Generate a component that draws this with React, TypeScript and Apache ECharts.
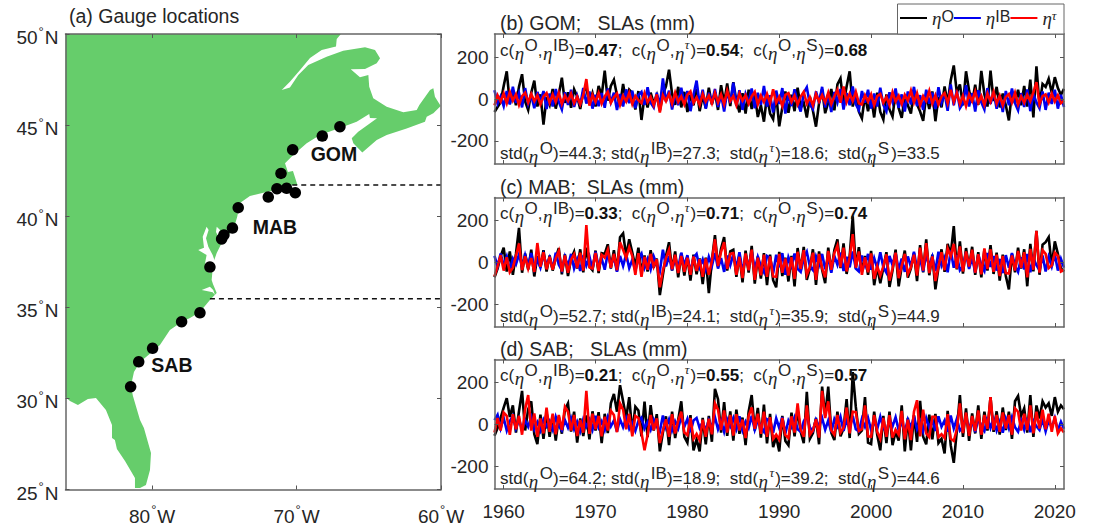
import React, { useEffect, useRef } from "react";
import * as echarts from "echarts";

const FONT = "Liberation Sans";
const SERIF = "Liberation Serif";
const INK = "#262626";
const LAND = "#66CD6B";

const startYear = 1959;
const samplesPerYear = 3;
const decadeTicks = [1960, 1970, 1980, 1990, 2000, 2010, 2020];
const slaTicks = [-200, 0, 200];
const lonTicks = [-80, -70, -60];
const latTicks = [25, 30, 35, 40, 45, 50];

const coast = [
  [-86, 50], [-66.93, 50], [-67.22, 49.73], [-67.27, 49.31], [-68.26, 49.12], [-69.07, 48.68], [-69.76, 48.02], [-70.46, 47.38], [-71.03, 46.93],
  [-70.46, 47.07], [-69.88, 47.75], [-69.19, 48.3], [-67.92, 48.75], [-66.77, 49.08], [-65.26, 49.27], [-64.57, 49.12], [-64.22, 48.67], [-64.45, 48.39],
  [-65.26, 48.08], [-66.25, 48.06], [-65.61, 47.62], [-65.03, 47.75], [-64.97, 47.11], [-64.69, 46.47], [-63.76, 46.01], [-62.61, 45.7], [-61.68, 45.83],
  [-61.5, 46.1], [-60.76, 46.93], [-60.53, 47.02], [-60.42, 46.56], [-60.02, 46.05], [-60.53, 45.65], [-60.99, 45.46], [-61.11, 45.19], [-62.38, 44.82],
  [-63.76, 44.46], [-64.45, 44.18], [-65.45, 43.49], [-66.07, 44.0], [-66.18, 44.28], [-65.73, 44.64], [-64.43, 45.37], [-64.92, 45.39], [-64.97, 45.61],
  [-65.84, 45.19], [-66.77, 44.91], [-68.38, 44.46], [-69.3, 44.0], [-70.23, 43.36], [-70.8, 42.9], [-70.6, 42.43], [-70.25, 42.48], [-69.94, 41.71],
  [-70.39, 41.71], [-70.87, 41.55], [-71.5, 41.44], [-73.23, 41.11], [-73.92, 40.72], [-74.11, 39.97], [-74.38, 39.24], [-75.08, 38.69], [-75.53, 37.98],
  [-75.77, 37.43], [-75.88, 36.5], [-75.79, 36.28], [-75.53, 35.78], [-76.0, 35.4], [-76.69, 34.74], [-77.38, 34.41], [-77.96, 34.19], [-78.77, 33.75],
  [-79.46, 32.93], [-80.01, 32.55], [-80.84, 32.0], [-81.26, 31.45], [-81.47, 30.68], [-81.33, 30.13], [-80.84, 28.81], [-80.57, 28.38], [-80.08, 27.0],
  [-80.15, 26.07], [-80.43, 25.25], [-80.84, 25.08], [-81.19, 25.08], [-81.19, 25.63], [-81.88, 26.56], [-82.44, 27.22], [-82.58, 27.72], [-82.78, 27.83],
  [-82.78, 28.54], [-83.2, 29.36], [-83.89, 30.02], [-84.45, 29.97], [-85.14, 29.64], [-85.69, 29.86], [-86, 30.08],
];
const chesapeake = [
  [-76.23, 39.42], [-76.09, 39.24], [-76.27, 38.79], [-76.11, 38.33], [-75.81, 37.87], [-75.65, 37.5], [-75.72, 37.14], [-76.0, 36.87], [-76.34, 37.05],
  [-76.32, 37.5], [-76.23, 37.87], [-76.81, 38.14], [-76.41, 38.27], [-76.5, 38.87],
];
const delaware = [[-75.53, 39.42], [-75.3, 39.24], [-75.44, 38.91], [-75.58, 39.13]];
const pamlico = [[-76.57, 35.95], [-76.0, 36.13], [-75.77, 35.95], [-75.65, 35.67], [-75.81, 35.82], [-76.23, 35.89]];

const gauges = [
  [-67.0, 44.91], [-68.22, 44.4], [-70.27, 43.65], [-71.08, 42.35], [-71.36, 41.51], [-70.69, 41.53], [-70.09, 41.29], [-71.96, 41.05], [-74.04, 40.47],
  [-74.44, 39.35], [-75.03, 38.97], [-75.19, 38.75], [-76.0, 37.21], [-76.69, 34.7], [-77.96, 34.21], [-79.97, 32.75], [-80.93, 32.01], [-81.49, 30.64],
];
const regionLabels = [
  { name: "GOM", value: [-67.41, 43.41] },
  { name: "MAB", value: [-71.5, 39.41] },
  { name: "SAB", value: [-78.63, 31.83] },
];
const boundaryNorth = [[-70.3, 41.71], [-60, 41.71]];
const boundarySouth = [[-76.0, 35.47], [-60, 35.47]];

const gomO = [
  -62,-38,-15,62,132,-22,42,-30,58,118,-12,-52,30,88,-36,22,-122,8,
  -28,48,-46,22,102,-18,32,-42,46,12,-48,36,54,-22,28,-36,62,16,
  135,-8,62,92,18,-32,72,-14,44,28,-50,38,-100,14,-40,30,-22,18,
  -55,22,60,140,24,-28,58,-40,34,-62,20,-30,48,-58,16,-44,54,-26,
  32,-52,66,-20,74,-34,80,-10,-64,28,-70,44,-48,22,-86,-30,-108,18,
  -70,-96,24,-130,-40,36,-66,20,-58,54,-42,-18,-88,10,-56,-132,-20,46,
  -68,-16,48,-54,70,98,-24,60,132,-36,28,-60,-92,16,-58,12,-88,30,
  -62,-98,22,-50,-84,34,-44,-90,14,-30,-70,40,-26,-60,-104,18,-48,36,
  -106,10,-40,60,-20,88,160,30,70,-30,132,40,-16,68,-28,134,22,-36,
  135,-10,58,-40,26,-30,-102,34,-20,44,-30,62,-36,92,-88,156,-30,72,
  58,96,30,104,52,20,48,
];
const gomIB = [
  42,-22,12,-34,38,-26,58,-18,28,-40,52,-24,18,-44,34,-12,38,-48,
  26,-36,48,-14,-50,32,-28,44,-38,16,-30,52,-22,36,-46,20,-34,28,
  -42,50,-16,30,-52,24,-36,46,-20,40,-44,18,34,-28,56,-18,-40,30,
  -34,98,-12,40,-50,26,-30,54,-24,38,-58,20,88,-26,44,-46,30,-20,
  48,-38,22,-60,36,-18,78,-32,42,-52,24,-16,50,-44,30,-28,62,-36,
  18,-64,40,-24,52,-70,28,-34,46,-18,-60,30,56,-26,-48,36,-20,58,
  -40,24,-62,34,-16,48,-50,28,-30,60,-24,-54,38,-18,44,-46,26,-36,
  54,-28,-58,32,-14,50,-42,22,-60,36,-26,58,-34,18,-52,44,-22,30,
  -48,56,-18,26,-56,70,-30,40,-44,-20,66,-36,28,-60,42,-16,-50,52,
  -24,34,-46,18,-62,38,-30,50,-20,-54,28,-38,46,-58,24,-16,-44,36,
  -52,30,-24,44,-46,20,-38,
];
const gomT = [
  -30,18,-12,26,-20,34,-8,22,-28,14,30,-16,24,-10,18,-26,12,28,
  -18,22,-14,30,-24,16,-10,26,-20,12,-26,18,95,-32,20,-14,28,-22,
  12,34,-18,8,26,-28,16,-12,30,-24,14,-6,-20,28,-16,10,-30,22,
  -65,18,-10,24,-22,30,-14,12,-26,20,36,-18,8,-28,24,-12,16,-20,
  30,-16,22,-24,40,-10,14,-30,26,-8,18,-22,12,34,-26,16,-14,24,
  -20,46,-18,10,-34,20,28,-14,16,-26,12,34,-22,8,-30,24,-12,18,
  -16,30,-24,12,44,-18,60,-14,26,-10,34,-20,-26,18,-12,22,-30,14,
  24,-18,10,-28,32,-12,16,-24,20,-8,40,-16,28,-30,14,-10,38,-22,
  18,-26,12,28,-20,44,-14,30,-24,16,-34,22,-10,36,-18,14,-28,26,
  -12,34,-22,16,-30,10,24,-16,30,-26,12,-18,20,-10,32,80,-24,14,
  22,-16,26,-12,18,-20,-8,
];

const mabO = [
  -72,-30,28,70,-45,52,-60,40,165,-50,42,-35,60,-68,30,-25,58,-44,
  32,-40,22,68,-58,38,-66,16,50,-30,62,-48,70,-20,-38,56,-52,44,
  40,86,-30,58,-42,120,138,30,110,46,-20,70,-52,32,-44,58,-26,18,
  -157,-60,30,96,-40,52,-72,42,-64,28,-88,36,-58,18,-105,22,-148,8,
  130,-20,66,120,-40,52,60,-70,34,-96,56,-50,78,-102,28,-78,44,-110,
  36,-86,-120,50,-66,22,-92,30,-116,68,-40,74,-84,-30,62,-108,52,-36,
  -100,70,-42,58,110,-28,90,-56,30,220,-30,72,-44,30,-60,54,-110,-22,
  -100,-26,48,-118,-38,60,-115,-20,56,-74,-30,44,-90,82,-48,110,-62,36,
  -130,-26,62,-46,88,36,173,-34,100,-54,68,-24,74,-60,48,-72,60,-40,
  82,-56,46,-88,36,-66,-130,40,-48,70,-30,62,-115,88,-44,150,-60,84,
  96,120,-20,100,40,-30,-44,
];
const mabIB = [
  30,-20,42,-15,28,-36,18,-10,38,-24,34,-18,44,-30,12,-26,36,-14,
  22,-32,46,-12,-38,26,-20,40,-30,14,-42,32,-16,28,-34,50,-22,18,
  -36,44,-14,24,-46,30,-18,38,-28,12,-40,20,42,-26,16,-34,28,-12,
  -44,60,-20,30,-38,18,-26,46,-16,34,-50,22,40,-24,14,-36,26,-18,
  44,-30,20,-46,32,-14,38,-28,48,-40,16,-22,52,-34,26,-18,-48,30,
  20,-54,36,-24,44,-60,24,-16,42,-32,-46,18,50,-20,-38,28,-14,40,
  -34,22,-50,30,-12,46,-42,26,-24,52,-30,-44,32,-16,40,-36,20,-28,
  48,-24,-50,30,-14,44,-36,18,-46,28,-22,50,-30,16,-44,40,-20,26,
  -42,50,-16,22,-48,56,-26,34,-38,-18,46,-32,24,-50,36,-14,-42,44,
  -22,30,-40,16,-52,34,-26,44,-18,-46,24,-34,40,-48,20,-14,-38,32,
  -44,26,-20,38,-40,16,-26,
];
const mabT = [
  -68,-20,34,-40,24,-48,-26,30,90,-38,28,-30,20,-46,92,-22,48,-34,
  26,-36,18,54,-44,32,-50,12,38,-28,46,-40,178,-24,-30,44,-42,36,
  22,60,-26,40,-38,96,60,20,72,30,-60,44,-70,26,-36,40,-22,14,
  -120,-40,20,60,-34,36,-52,30,-46,22,-60,28,-42,14,-70,18,-60,6,
  110,-18,50,96,-32,40,44,-60,26,-76,42,-38,60,-84,22,-62,36,-70,
  28,-68,-70,40,-50,18,-64,24,-80,50,-32,58,-60,-24,46,-84,40,-30,
  -72,54,-36,44,80,-24,70,-44,24,135,-26,52,-60,24,-48,42,-80,-18,
  -64,-20,38,-88,-30,46,-76,-16,40,-56,-24,36,-64,70,-40,92,-52,28,
  -90,-22,48,-38,66,28,88,-30,76,-44,52,-20,60,-50,38,-58,66,-32,
  62,-46,36,-66,30,-52,-54,32,-40,54,-26,48,-72,64,-36,150,-50,58,
  40,-28,-16,46,30,-44,-36,
];

const sabO = [
  -55,-18,30,80,125,35,90,-40,62,160,-30,72,110,-48,-95,46,-70,58,
  -60,40,-78,36,-45,70,100,-35,60,-88,28,-56,42,-72,62,-30,58,-90,
  50,-42,100,145,60,187,110,30,130,-40,84,66,-58,108,-62,92,-30,48,
  -130,-40,38,-100,60,-66,22,110,-60,-88,44,-125,-72,-130,30,-96,40,-84,
  170,120,-40,106,-56,62,-78,70,-46,32,-100,60,140,-30,78,-64,94,-92,
  50,-110,-60,-130,40,-80,-100,56,-58,70,-36,-90,155,-70,-42,30,-96,180,
  40,180,-40,-76,60,-58,-20,120,-66,250,84,-46,-30,130,-88,-95,60,-50,
  -125,40,-90,60,-100,-35,-78,90,-130,30,-125,44,-84,112,-60,-96,46,-72,
  50,-90,-70,-140,64,-100,-185,-30,140,-60,76,-80,52,-44,90,-70,60,-30,
  130,-36,62,-50,80,-28,60,-70,110,135,40,76,-40,140,-60,90,28,110,
  80,100,40,130,60,90,72,
];
const sabIB = [
  20,45,-20,30,-30,15,40,-20,26,-28,18,-12,34,-24,10,-30,22,-10,
  16,-26,36,-8,-30,20,-16,30,-24,12,-34,24,-12,22,-26,40,-16,14,
  -28,34,-10,18,-36,24,-14,30,-22,8,-32,16,32,-20,12,-26,22,-10,
  -34,42,-16,24,-30,14,-20,36,-12,26,-38,18,30,-18,10,-28,20,-14,
  34,-24,16,-36,24,-10,30,-22,38,-30,12,-18,40,-26,20,-14,-36,24,
  16,-40,28,-18,34,-44,18,-12,32,-24,-36,14,38,-16,-30,22,-10,30,
  -26,18,-38,24,-10,36,-32,20,-18,40,-24,-34,26,-12,30,-28,16,-22,
  36,-18,-38,24,-10,34,-28,14,-36,22,-16,38,-24,12,-34,30,-16,20,
  -32,38,-12,18,-36,42,-20,26,-30,-14,36,-24,18,-38,28,-10,-32,34,
  -18,24,-30,12,-40,26,-20,34,-14,-36,18,-26,30,-38,16,-10,-28,24,
  -34,20,-16,30,-30,12,-22,
];
const sabT = [
  -40,30,-30,56,40,-50,48,-24,40,-50,72,140,-30,52,-60,28,-44,80,
  -36,50,-48,44,-28,84,60,-30,44,-56,20,-40,160,-46,50,-24,40,-58,
  36,-30,64,44,-38,100,70,-24,50,-58,40,30,-40,-125,-50,44,-28,28,
  -90,-30,24,-60,48,-44,16,60,-40,-52,30,-70,-46,-76,22,-60,26,-48,
  100,70,-28,66,-40,44,-54,48,-30,22,-66,40,80,-22,50,-46,60,-60,
  34,-70,-50,-74,30,-52,-66,38,-40,100,-26,-60,90,-50,-30,24,-64,160,
  30,110,-30,-50,44,-40,-16,80,-44,60,58,-32,-24,90,-58,-60,44,-36,
  -70,30,-60,44,-64,-26,-50,64,-72,22,-76,60,115,-58,70,-44,-62,36,
  36,-62,-48,-66,48,-70,-80,-24,100,-42,56,-56,40,-32,66,-50,44,-22,
  130,-28,44,-36,56,-20,44,-50,76,60,-30,50,-28,90,-44,60,-20,70,
  -24,50,-36,40,-44,-20,-40,
];

const nameO = "ηO";
const nameIB = "ηIB";
const nameT = "ητ";

const panels = [
  { title: "(b) GOM;   SLAs (mm)", o: gomO, ib: gomIB, t: gomT, c: ["0.47", "0.54", "0.68"], std: ["44.3", "27.3", "18.6", "33.5"] },
  { title: "(c) MAB;  SLAs (mm)", o: mabO, ib: mabIB, t: mabT, c: ["0.33", "0.71", "0.74"], std: ["52.7", "24.1", "35.9", "44.9"] },
  { title: "(d) SAB;   SLAs (mm)", o: sabO, ib: sabIB, t: sabT, c: ["0.21", "0.55", "0.57"], std: ["64.2", "18.9", "39.2", "44.6"] },
];

const panelBoxes = [
  { top: 34, height: 130 },
  { top: 197.5, height: 129.5 },
  { top: 359.5, height: 129.5 },
];

const AXIS = { color: "#666666", width: 1.5 };

function asPairs(values: number[]) {
  return values.map((v, i) => [startYear + i / samplesPerYear, v]);
}

const richText = {
  b: { fontFamily: FONT, fontSize: 17, fill: INK, height: 26, lineHeight: 26 },
  v: { fontFamily: FONT, fontSize: 17, fontWeight: "bold", fill: "#111111", height: 26, lineHeight: 26 },
  e: { fontFamily: SERIF, fontStyle: "italic", fontSize: 19, fill: INK, verticalAlign: "bottom", height: 20, lineHeight: 20, padding: [0, 1.5, 0, 0.5] },
  f: { fontFamily: SERIF, fontStyle: "italic", fontSize: 19, fill: INK, verticalAlign: "bottom", height: 20, lineHeight: 20, padding: [0, 0.5, 0, 0.5] },
  s: { fontFamily: FONT, fontSize: 17, fill: INK, verticalAlign: "top", height: 16, lineHeight: 16 },
  q: { fontFamily: FONT, fontSize: 17, fill: INK, verticalAlign: "top", height: 16, lineHeight: 16, padding: [0, 2, 0, 0] },
  u: { fontFamily: FONT, fontSize: 17, fill: INK, verticalAlign: "top", height: 16, lineHeight: 16, padding: [0, 1, 0, 0] },
  t: { fontFamily: SERIF, fontStyle: "italic", fontSize: 13, fill: INK, verticalAlign: "top", height: 14, lineHeight: 14, padding: [0, 1, 0, 0] },
};

function corrLine(c: string[]) {
  return (
    `{b|c(}{f|η}{s|O}{b|,}{f|η}{s|IB}{b|)=}{v|${c[0]}}{b|;  c(}{f|η}{s|O}{b|,}{f|η}{t|τ}{b|)=}{v|${c[1]}}` +
    `{b|;  c(}{f|η}{s|O}{b|,}{f|η}{u|S}{b|)=}{v|${c[2]}}`
  );
}
function stdLine(s: string[]) {
  return (
    `{b|std(}{e|η}{s|O}{b|)=${s[0]}; std(}{e|η}{s|IB}{b|)=${s[1]};  std(}{e|η}{t|τ}{b|)=${s[2]};  std(}{e|η}{q|S}{b|)=${s[3]}}`
  );
}

const titleStyle = { fontFamily: FONT, fontSize: 19.5, fill: INK };

function buildOption() {
  const grids: any[] = [
    { left: 65.5, top: 34, width: 375.5, height: 455.5, containLabel: false },
    ...panelBoxes.map((b) => ({ left: 494.5, top: b.top, width: 569.5, height: b.height, containLabel: false })),
  ];
  const degLabelRich = {
    d: { fontFamily: FONT, fontSize: 13, color: INK, verticalAlign: "top", height: 6, lineHeight: 6, padding: [0, 1, 0, 1] },
  };
  const xAxes: any[] = [];
  const yAxes: any[] = [];
  const line = { show: true, onZero: false, lineStyle: AXIS };
  const tick = (vals: number[]) => ({ show: true, inside: true, length: 4, lineStyle: { color: "#555555", width: 1 }, customValues: vals });

  xAxes.push({
    type: "value", gridIndex: 0, min: -86, max: -60, z: 10, splitLine: { show: false },
    axisLine: line, axisTick: tick(lonTicks),
    axisLabel: {
      customValues: lonTicks, margin: 17, fontFamily: FONT, fontSize: 19, color: INK, rich: degLabelRich, hideOverlap: false,
      showMinLabel: true, showMaxLabel: true,
      formatter: (v: number) => `${Math.abs(v)}{d|°}W`,
    },
  });
  yAxes.push({
    type: "value", gridIndex: 0, min: 25, max: 50, interval: 5, z: 10, splitLine: { show: false },
    axisLine: line, axisTick: { show: true, inside: true, length: 4, lineStyle: { color: "#555555", width: 1 } },
    axisLabel: {
      margin: 7, padding: [7, 0, 0, 0], fontFamily: FONT, fontSize: 19, color: INK, rich: degLabelRich,
      formatter: (v: number) => `${v}{d|°}N`,
    },
  });
  panelBoxes.forEach((_, i) => {
    const last = i === panelBoxes.length - 1;
    xAxes.push({
      type: "value", gridIndex: i + 1, min: 1959, max: 2021, z: 10, splitLine: { show: false },
      axisLine: line, axisTick: tick(decadeTicks),
      axisLabel: last
        ? { show: true, customValues: decadeTicks, margin: 13, fontFamily: FONT, fontSize: 19, color: INK, formatter: (v: number) => String(v) }
        : { show: false },
    });
    yAxes.push({
      type: "value", gridIndex: i + 1, min: -310, max: 310, z: 10, splitLine: { show: false },
      axisLine: line, axisTick: tick(slaTicks),
      axisLabel: { show: true, customValues: slaTicks, margin: 6, fontFamily: FONT, fontSize: 19, color: INK, formatter: (v: number) => String(v) },
    });
  });
  grids.forEach((_, i) => {
    const isMap = i === 0;
    xAxes.push({
      type: "value", gridIndex: i, position: "top", min: isMap ? -86 : 1959, max: isMap ? -60 : 2021, z: 10, splitLine: { show: false },
      axisLine: line, axisTick: tick(isMap ? lonTicks : decadeTicks), axisLabel: { show: false },
    });
    yAxes.push({
      type: "value", gridIndex: i, position: "right", min: isMap ? 25 : -310, max: isMap ? 50 : 310, z: 10, splitLine: { show: false },
      axisLine: line, axisTick: tick(isMap ? latTicks : slaTicks), axisLabel: { show: false },
    });
  });

  const polygonSeries = (ring: number[][], fill: string, z: number) => ({
    type: "custom", xAxisIndex: 0, yAxisIndex: 0, z, coordinateSystem: "cartesian2d", clip: true, silent: true,
    data: [ring[0]],
    encode: { x: 0, y: 1 },
    renderItem: (_p: any, api: any) => ({
      type: "polygon",
      shape: { points: ring.map((pt) => api.coord(pt)) },
      style: { fill, stroke: null },
    }),
  });
  const dashed = (data: number[][]) => ({
    type: "line", xAxisIndex: 0, yAxisIndex: 0, z: 4, data, showSymbol: false, silent: true,
    lineStyle: { color: "#111111", width: 1.5, type: [5, 4] },
  });

  const series: any[] = [
    polygonSeries(coast, LAND, 2),
    polygonSeries(chesapeake, "#ffffff", 3),
    polygonSeries(delaware, "#ffffff", 3),
    polygonSeries(pamlico, "#ffffff", 3),
    dashed(boundaryNorth),
    dashed(boundarySouth),
    {
      type: "scatter", xAxisIndex: 0, yAxisIndex: 0, z: 5, data: gauges, symbol: "circle", symbolSize: 11.5, silent: true,
      itemStyle: { color: "#000000", opacity: 1 },
    },
    {
      type: "scatter", xAxisIndex: 0, yAxisIndex: 0, z: 6, data: regionLabels, symbolSize: 0, silent: true,
      itemStyle: { opacity: 1 },
      label: { show: true, position: "inside", formatter: "{b}", fontFamily: FONT, fontWeight: "bold", fontSize: 19.5, color: "#111111" },
    },
  ];
  panels.forEach((p, i) => {
    const mk = (name: string, vals: number[], color: string, z: number) => ({
      name, type: "line", xAxisIndex: i + 1, yAxisIndex: i + 1, z, data: asPairs(vals), showSymbol: false, symbol: "none", clip: true, silent: true,
      lineStyle: { color, width: 2.6, join: "miter" }, itemStyle: { color },
    });
    series.push(mk(nameO, p.o, "#000000", 3), mk(nameIB, p.ib, "#0000F0", 4), mk(nameT, p.t, "#FF0000", 5));
  });

  const textRows: any[] = [];
  const titleY = [24, 188, 350];
  const corrY = [50, 213, 375.5];
  const stdY = [153.5, 316, 478.5];
  panels.forEach((p, i) => {
    textRows.push({ type: "text", left: 500, top: titleY[i] - 11, z: 100, style: { ...titleStyle, text: p.title } });
    textRows.push({ type: "text", x: 500, y: corrY[i], z: 100, style: { text: corrLine(p.c), rich: richText, verticalAlign: "middle", fontFamily: FONT, fontSize: 17, fill: INK } });
    textRows.push({ type: "text", x: 500, y: stdY[i], z: 100, style: { text: stdLine(p.std), rich: richText, verticalAlign: "middle", fontFamily: FONT, fontSize: 17, fill: INK } });
  });

  return {
    animation: false,
    backgroundColor: "#ffffff",
    textStyle: { fontFamily: FONT },
    grid: grids,
    xAxis: xAxes,
    yAxis: yAxes,
    series,
    legend: {
      show: true, left: 900, top: 8, padding: 0, icon: "rect", itemWidth: 27, itemHeight: 2, itemGap: 0, selectedMode: false, z: 60,
      data: [nameO, nameIB, nameT],
      formatter: (n: string) => (n === nameO ? "{e|η}{s|O}" : n === nameIB ? "{e|η}{s|IB}" : "{e|η}{t|τ}"),
      textStyle: {
        rich: {
          e: { fontFamily: SERIF, fontStyle: "italic", fontSize: 19, color: INK, verticalAlign: "bottom", height: 20, lineHeight: 20 },
          s: { fontFamily: FONT, fontSize: 16, color: INK, verticalAlign: "top", height: 16, lineHeight: 16 },
          t: { fontFamily: SERIF, fontStyle: "italic", fontSize: 13, color: INK, verticalAlign: "top", height: 14, lineHeight: 14 },
        },
      },
    },
    graphic: {
      elements: [
        { type: "rect", x: 897.5, y: 4, z: 50, shape: { width: 166.5, height: 30 }, style: { fill: "#ffffff", stroke: "#666666", lineWidth: 1 } },
        { type: "text", left: 69, top: 6, z: 100, style: { ...titleStyle, text: "(a) Gauge locations" } },
        ...textRows,
      ],
    },
  };
}

export default function App() {
  const ref = useRef<HTMLDivElement | null>(null);
  useEffect(() => {
    if (!ref.current) return;
    const chart = echarts.init(ref.current, undefined, { renderer: "svg" });
    chart.setOption(buildOption() as any);
    return () => chart.dispose();
  }, []);
  return <div ref={ref} style={{ position: "fixed", left: 0, top: 0, width: 1094, height: 526 }} />;
}
